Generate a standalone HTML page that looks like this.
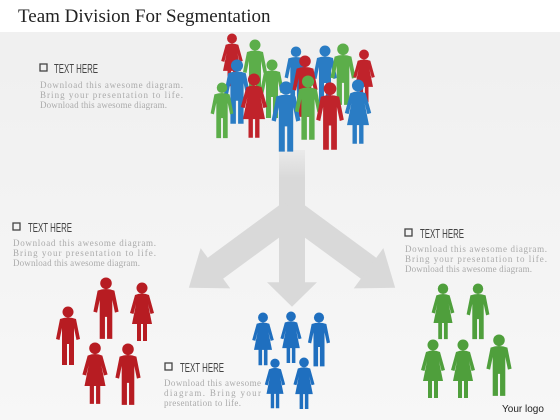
<!DOCTYPE html>
<html><head><meta charset="utf-8"><style>
body{margin:0;width:560px;height:420px;overflow:hidden;font-family:"Liberation Serif",serif}
svg{display:block}
.h{font-family:"Liberation Sans",sans-serif;font-size:13px;fill:#444}
.b{font-size:9px;fill:#aaa}
</style></head><body>
<svg width="560" height="420" viewBox="0 0 560 420">
<defs>
<linearGradient id="bg" x1="0" y1="0" x2="0" y2="1"><stop offset="0" stop-color="#efefef"/><stop offset="1" stop-color="#f7f7f7"/></linearGradient>
<linearGradient id="stem" x1="0" y1="0" x2="0" y2="1"><stop offset="0" stop-color="#d9d9d9" stop-opacity="0.3"/><stop offset="0.4" stop-color="#d9d9d9"/></linearGradient>
<g id="p"><circle cx="0" cy="5" r="5.5"/><path d="M-8,12 Q0,9 8,12 L12,32 L8.5,33 L6,21 L6,58 L1,58 L1,37 L-1,37 L-1,58 L-6,58 L-6,21 L-8.5,33 L-12,32 Z"/></g>
<g id="w"><circle cx="0" cy="5" r="5.5"/><path d="M-7,12 Q0,9 7,12 L12,30 L8.5,31 L6,21 L10,41 L5,41 L5,58 L1,58 L1,41 L-1,41 L-1,58 L-5,58 L-5,41 L-10,41 L-6,21 L-8.5,31 L-12,30 Z"/></g>
<g id="arr"><rect x="0" y="-13" width="97" height="26"/><polygon points="95,-25 128,0 95,25"/></g>
</defs>
<rect width="560" height="420" fill="url(#bg)"/>
<rect width="560" height="32" fill="#fff"/>
<text x="18" y="22" font-size="19" fill="#222">Team Division For Segmentation</text>
<g fill="#d9d9d9">
<rect x="279" y="150" width="26" height="70" fill="url(#stem)"/>
<use href="#arr" transform="translate(292,212) rotate(143.7)"/>
<use href="#arr" transform="translate(292,212) rotate(36.3)"/>
<use href="#arr" transform="translate(292,212) rotate(90) scale(0.74,1)"/>
</g>
<g>
<use href="#w" fill="#c0232b" transform="translate(232,34) scale(0.9)"/>
<use href="#p" fill="#5cae4a" transform="translate(255,40) scale(1)"/>
<use href="#p" fill="#2a7cc4" transform="translate(296,47) scale(0.95)"/>
<use href="#p" fill="#2a7cc4" transform="translate(325,46) scale(1)"/>
<use href="#p" fill="#5cae4a" transform="translate(343,44) scale(1.05)"/>
<use href="#w" fill="#c0232b" transform="translate(364,50) scale(0.9)"/>
<use href="#p" fill="#2a7cc4" transform="translate(237,60) scale(1.1)"/>
<use href="#p" fill="#5cae4a" transform="translate(272,60) scale(1)"/>
<use href="#p" fill="#c0232b" transform="translate(305,56) scale(1.05)"/>
<use href="#p" fill="#5cae4a" transform="translate(222,83) scale(0.95)"/>
<use href="#w" fill="#c0232b" transform="translate(254,74) scale(1.1)"/>
<use href="#p" fill="#2a7cc4" transform="translate(286,82) scale(1.2)"/>
<use href="#p" fill="#5cae4a" transform="translate(308,76) scale(1.1)"/>
<use href="#p" fill="#c0232b" transform="translate(330,83) scale(1.15)"/>
<use href="#w" fill="#2a7cc4" transform="translate(358,80) scale(1.1)"/>
</g>
<g fill="#b71c22">
<use href="#p" transform="translate(68,307) scale(1.0)"/>
<use href="#p" transform="translate(106,278) scale(1.05)"/>
<use href="#w" transform="translate(142,283) scale(1.0)"/>
<use href="#w" transform="translate(95,343) scale(1.05)"/>
<use href="#p" transform="translate(128,344) scale(1.05)"/>
</g>
<g fill="#1f6fbf">
<use href="#w" transform="translate(263,313) scale(0.9)"/>
<use href="#w" transform="translate(291,312) scale(0.88)"/>
<use href="#p" transform="translate(319,313) scale(0.92)"/>
<use href="#w" transform="translate(275,359) scale(0.85)"/>
<use href="#w" transform="translate(304,358) scale(0.88)"/>
</g>
<g fill="#4f9f3c">
<use href="#w" transform="translate(443,284) scale(0.95)"/>
<use href="#p" transform="translate(478,284) scale(0.95)"/>
<use href="#w" transform="translate(433,340) scale(1.0)"/>
<use href="#w" transform="translate(463,340) scale(1.0)"/>
<use href="#p" transform="translate(499,335) scale(1.05)"/>
</g>
<g>
<rect x="40" y="64" width="7" height="7" fill="none" stroke="#444" stroke-width="1.3"/>
<text class="h" x="54" y="73" textLength="44" lengthAdjust="spacingAndGlyphs">TEXT HERE</text>
<text class="b" x="40" y="88" textLength="143">Download this awesome diagram.</text>
<text class="b" x="40" y="98" textLength="143">Bring your presentation to life.</text>
<text class="b" x="40" y="108" textLength="127">Download this awesome diagram.</text>
</g>
<g>
<rect x="13" y="223" width="7" height="7" fill="none" stroke="#444" stroke-width="1.3"/>
<text class="h" x="28" y="232" textLength="44" lengthAdjust="spacingAndGlyphs">TEXT HERE</text>
<text class="b" x="13" y="246" textLength="143">Download this awesome diagram.</text>
<text class="b" x="13" y="256" textLength="143">Bring your presentation to life.</text>
<text class="b" x="13" y="266" textLength="127">Download this awesome diagram.</text>
</g>
<g>
<rect x="405" y="229" width="7" height="7" fill="none" stroke="#444" stroke-width="1.3"/>
<text class="h" x="420" y="238" textLength="44" lengthAdjust="spacingAndGlyphs">TEXT HERE</text>
<text class="b" x="405" y="252" textLength="142">Download this awesome diagram.</text>
<text class="b" x="405" y="262" textLength="142">Bring your presentation to life.</text>
<text class="b" x="405" y="272" textLength="127">Download this awesome diagram.</text>
</g>
<g>
<rect x="165" y="363" width="7" height="7" fill="none" stroke="#444" stroke-width="1.3"/>
<text class="h" x="180" y="372" textLength="44" lengthAdjust="spacingAndGlyphs">TEXT HERE</text>
<text class="b" x="164" y="386" textLength="97">Download this awesome</text>
<text class="b" x="164" y="396" textLength="97">diagram. Bring your</text>
<text class="b" x="164" y="406" textLength="77">presentation to life.</text>
</g>
<text x="502" y="412" font-family="Liberation Sans, sans-serif" font-size="10" fill="#222">Your logo</text>
</svg>
</body></html>
